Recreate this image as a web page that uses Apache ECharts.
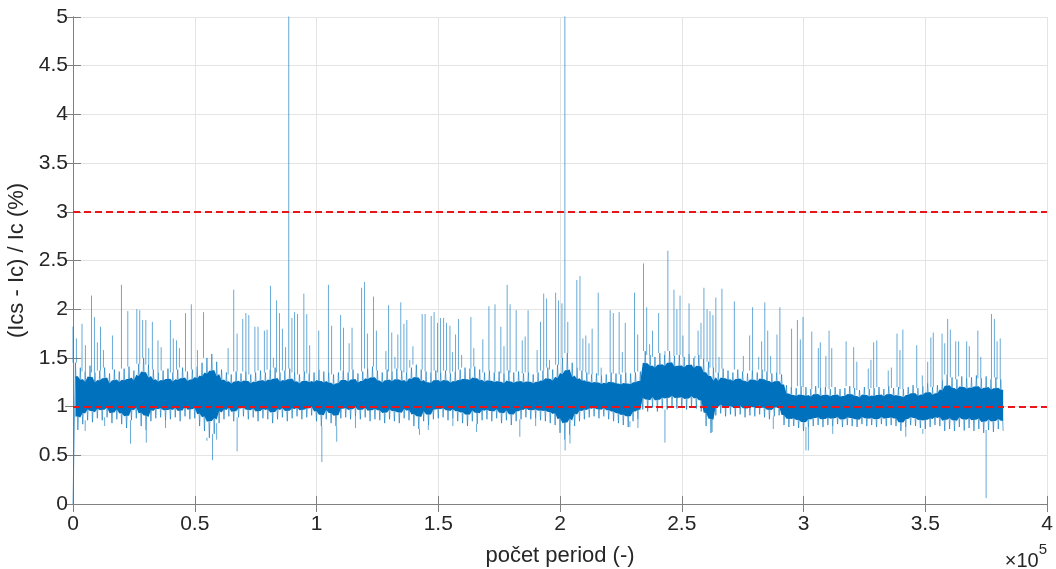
<!DOCTYPE html>
<html>
<head>
<meta charset="utf-8">
<script src="https://cdn.jsdelivr.net/npm/echarts@6/dist/echarts.min.js"></script>
<style>html,body{margin:0;padding:0;background:#fff;}#chart{width:1056px;height:569px;}</style>
</head>
<body>
<div id="chart"></div>
<script>
// ---- data ----
const bandStep = 1000; // periods between band samples
const bandValues = [
0.00,1.45,0.76,1.40,0.82,1.36,0.86,1.42,0.84,1.35,
0.88,1.37,0.86,1.40,0.89,1.34,0.83,1.38,0.87,1.36,
0.82,1.39,0.78,1.41,0.86,1.37,0.88,1.44,0.80,1.50,
0.76,1.43,0.85,1.38,0.88,1.35,0.89,1.37,0.86,1.39,
0.87,1.35,0.89,1.38,0.85,1.40,0.90,1.36,0.87,1.38,
0.88,1.41,0.80,1.45,0.75,1.50,0.68,1.54,0.72,1.46,
0.83,1.38,0.87,1.35,0.90,1.33,0.85,1.36,0.89,1.34,
0.90,1.36,0.87,1.33,0.89,1.35,0.85,1.37,0.88,1.35,
0.87,1.38,0.83,1.40,0.87,1.35,0.89,1.37,0.85,1.39,
0.88,1.35,0.90,1.33,0.87,1.36,0.89,1.34,0.91,1.35,
0.85,1.38,0.80,1.36,0.87,1.35,0.83,1.33,0.80,1.35,
0.88,1.37,0.89,1.35,0.87,1.38,0.90,1.34,0.87,1.36,
0.89,1.39,0.85,1.41,0.87,1.37,0.86,1.35,0.83,1.38,
0.87,1.36,0.85,1.39,0.83,1.37,0.88,1.35,0.86,1.40,
0.80,1.43,0.77,1.38,0.85,1.36,0.81,1.35,0.87,1.37,
0.88,1.35,0.89,1.37,0.86,1.34,0.88,1.36,0.85,1.38,
0.83,1.40,0.80,1.39,0.85,1.41,0.82,1.38,0.86,1.35,
0.87,1.37,0.85,1.35,0.88,1.36,0.83,1.34,0.86,1.37,
0.81,1.35,0.85,1.36,0.87,1.34,0.89,1.35,0.87,1.33,
0.88,1.35,0.86,1.37,0.85,1.40,0.83,1.38,0.81,1.43,
0.73,1.50,0.66,1.55,0.71,1.45,0.80,1.40,0.85,1.37,
0.87,1.35,0.89,1.33,0.90,1.34,0.88,1.32,0.90,1.33,
0.87,1.35,0.85,1.34,0.83,1.33,0.81,1.35,0.79,1.34,
0.85,1.35,0.87,1.36,0.97,1.57,0.95,1.53,0.99,1.51,
0.95,1.55,0.98,1.53,0.97,1.57,1.00,1.52,0.98,1.53,
0.99,1.51,0.97,1.54,1.00,1.50,0.98,1.53,0.95,1.49,
0.80,1.46,0.73,1.40,0.91,1.35,0.93,1.39,0.90,1.37,
0.92,1.35,0.90,1.38,0.92,1.36,0.89,1.34,0.91,1.37,
0.90,1.35,0.92,1.38,0.89,1.36,0.87,1.34,0.90,1.35,
0.91,1.33,0.81,1.22,0.79,1.20,0.80,1.19,0.78,1.21,
0.75,1.20,0.79,1.18,0.80,1.21,0.81,1.19,0.79,1.20,
0.81,1.18,0.80,1.20,0.82,1.18,0.79,1.19,0.81,1.21,
0.80,1.19,0.79,1.17,0.82,1.20,0.80,1.18,0.81,1.19,
0.79,1.20,0.82,1.18,0.80,1.21,0.81,1.19,0.80,1.20,
0.75,1.18,0.79,1.20,0.81,1.22,0.80,1.19,0.78,1.21,
0.77,1.24,0.79,1.20,0.81,1.22,0.80,1.27,0.75,1.33,
0.77,1.30,0.75,1.28,0.79,1.31,0.76,1.29,0.78,1.30,
0.75,1.32,0.77,1.29,0.73,1.31,0.76,1.28,0.74,1.30,
0.77,1.28,0.75
];
const spikeX = [0,1400,3700,5100,7600,8800,10000,11300,12500,16200,19900,22500,26200,27400,28600,29900,31100,32600,34900,36200,40000,41200,42500,43700,46200,48600,51100,53600,63700,66000,67400,69700,71000,72200,74700,76000,78600,79700,81100,82300,83600,84800,86000,87300,88600,89900,91000,92200,94800,96000,97200,100900,104900,106200,109900,111100,113400,114600,118500,119700,120900,123400,124600,128500,129600,130900,132200,133400,134600,135900,137100,138300,139600,143400,144600,147100,148300,149700,150900,152200,153400,154800,155900,157100,158300,159600,163400,164600,168300,170800,173300,175700,177000,178300,179500,182000,184500,185700,186900,190600,192000,193300,194500,195700,198200,199400,200800,202000,203200,206900,208200,209400,210600,211900,213200,215700,216900,220600,221900,224300,225600,226800,230600,231900,234300,235600,236800,238000,240500,243100,244300,246800,248000,249300,250500,253000,255400,256700,257900,259100,260400,261600,262800,264000,265300,266500,271600,275300,277900,279100,281600,282800,284100,285300,286500,289100,290300,295100,297500,298700,299800,303400,306100,306900,309200,310500,311600,317500,320600,321900,326600,327700,328800,330100,334800,336100,338400,339600,340800,346500,348800,351000,352300,353300,356900,358000,359200,360300,362500,363700,367000,368100,371600,372800,377200,378400,379500,380800];
const spikeY = [1.82,1.70,1.85,1.63,2.14,1.92,1.66,1.82,1.58,1.73,2.25,1.98,2.00,1.99,1.89,1.89,1.60,1.87,1.68,1.61,1.89,1.70,1.68,1.60,1.96,2.05,1.58,1.97,1.60,2.20,1.75,1.90,1.96,1.94,1.82,1.82,1.78,1.79,2.24,1.50,2.09,1.96,1.80,1.61,6.00,1.91,1.97,1.95,2.16,1.95,1.63,1.78,2.25,1.83,1.94,1.81,1.65,1.81,2.22,2.28,1.75,2.13,1.78,1.57,2.04,1.76,1.51,1.74,2.07,1.85,1.89,1.48,1.62,1.95,1.95,1.93,1.97,1.86,1.91,1.91,1.86,1.83,1.56,1.74,1.90,1.53,1.92,1.60,1.69,2.03,2.05,1.82,1.62,2.25,2.05,1.99,1.68,1.72,1.99,1.58,1.87,2.16,2.11,1.48,2.17,2.09,2.06,6.00,1.87,2.30,2.34,1.70,1.73,1.65,1.80,2.17,1.40,1.99,1.96,1.97,1.56,1.86,2.17,1.74,2.47,2.02,1.64,1.78,1.96,1.57,2.60,2.20,2.00,2.14,1.73,2.06,1.52,1.78,1.86,2.22,2.00,1.98,1.94,2.12,1.51,2.21,2.08,1.52,1.73,2.02,1.51,1.67,2.07,1.78,1.52,1.74,2.02,1.80,1.89,1.69,1.92,1.77,1.60,1.66,1.52,1.78,1.60,1.67,1.61,1.46,1.39,1.48,1.66,1.68,1.37,1.40,1.75,1.58,1.79,1.63,1.32,1.46,1.71,1.76,1.75,1.65,1.90,1.79,1.67,1.67,1.67,1.62,1.78,1.51,1.95,1.90,1.67,1.70];
const dipX = [5000,13000,23600,30100,38000,55000,57300,59000,67400,102200,108300,116000,142300,145900,156000,165700,183500,190000,202100,204100,228700,232000,243100,262500,287600,301000,302000,312000,342000,349000,366000,375000];
const dipY = [0.75,0.80,0.62,0.63,0.78,0.65,0.45,0.66,0.54,0.43,0.64,0.78,0.71,0.76,0.80,0.74,0.69,0.80,0.55,0.62,0.79,0.78,0.63,0.74,0.77,0.55,0.55,0.72,0.69,0.72,0.75,0.06];
const refLevels = [1, 3];
const xTickLabels = ['0','0.5','1','1.5','2','2.5','3','3.5','4'];
const yTickLabels = ['0','0.5','1','1.5','2','2.5','3','3.5','4','4.5','5'];
const xLabel = 'počet period (-)';
const yLabel = '(Ics - Ic) / Ic (%)';

// ---- build series ----
const n = bandValues.length;
const band = bandValues.map((v, i) => [i * bandStep, v]);
// dense core of the band: local envelope of neighbouring samples, pulled inward
const coreTop = [], coreBottom = [];
for (let i = 1; i < n; i++) {
  const w = bandValues.slice(Math.max(1, i - 1), Math.min(n, i + 2));
  const hi = Math.max(...w), lo = Math.min(...w);
  const shrink = 0.2 * (hi - lo);
  coreTop.push([i * bandStep, hi - shrink]);
  coreBottom.push([i * bandStep, lo + shrink]);
}
const corePolygon = coreTop.concat(coreBottom.slice().reverse());

function nearest(x) { return Math.min(n - 1, Math.round(x / bandStep)); }
const spikes = [];
spikeX.forEach((x, i) => {
  const k = nearest(x);
  const base = Math.max(bandValues[k], bandValues[Math.min(k + 1, n - 1)]);
  spikes.push([x, base], [x, spikeY[i]], [x, '-']);
});
dipX.forEach((x, i) => {
  const k = nearest(x);
  const base = Math.min(bandValues[k], bandValues[Math.min(k + 1, n - 1)]);
  spikes.push([x, base], [x, dipY[i]], [x, '-']);
});

const FONT = 'Liberation Sans, Arial, sans-serif';
const TXT = '#262626';
const AX = '#808080';
const GRIDC = '#e4e4e4';
const BLUE = '#0072BD';
const chart = echarts.init(document.getElementById('chart'), null, {renderer: 'canvas'});
chart.setOption({
  animation: false,
  backgroundColor: '#fff',
  grid: {left: 73, right: 9, top: 17, bottom: 65, containLabel: false, outerBoundsMode: 'none'},
  xAxis: [{
    type: 'value', min: 0, max: 400000, interval: 50000,
    axisLine: {show: true, lineStyle: {color: AX, width: 1}},
    axisTick: {show: true, inside: true, length: 8, lineStyle: {color: AX}},
    splitLine: {show: true, lineStyle: {color: GRIDC, width: 1}},
    axisLabel: {color: TXT, fontSize: 21, fontFamily: FONT, margin: 10,
      formatter: v => xTickLabels[Math.round(v / 50000)]},
    name: xLabel, nameLocation: 'middle', nameGap: 41,
    nameTextStyle: {color: TXT, fontSize: 22, fontFamily: FONT}
  }, {
    type: 'value', position: 'top', min: 0, max: 400000, interval: 50000,
    axisLine: {show: true, lineStyle: {color: AX, width: 1}},
    axisTick: {show: true, inside: true, length: 8, lineStyle: {color: AX}},
    splitLine: {show: false}, axisLabel: {show: false}
  }],
  yAxis: [{
    type: 'value', min: 0, max: 5, interval: 0.5,
    axisLine: {show: true, lineStyle: {color: AX, width: 1}},
    axisTick: {show: true, inside: true, length: 8, lineStyle: {color: AX}},
    splitLine: {show: true, lineStyle: {color: GRIDC, width: 1}},
    axisLabel: {color: TXT, fontSize: 21, fontFamily: FONT, margin: 5,
      formatter: v => yTickLabels[Math.round(v / 0.5)]},
    name: yLabel, nameLocation: 'middle', nameGap: 40, nameRotate: 90,
    nameTextStyle: {color: TXT, fontSize: 22, fontFamily: FONT}
  }, {
    type: 'value', position: 'right', min: 0, max: 5, interval: 0.5,
    axisLine: {show: true, lineStyle: {color: AX, width: 1}},
    axisTick: {show: true, inside: true, length: 8, lineStyle: {color: AX}},
    splitLine: {show: false}, axisLabel: {show: false}
  }],
  series: [{
    type: 'line', data: spikes, symbol: 'none', connectNulls: false, clip: true,
    lineStyle: {color: BLUE, width: 1, opacity: 0.6}, z: 2
  }, {
    type: 'line', data: band, symbol: 'none', clip: true, sampling: null,
    lineStyle: {color: BLUE, width: 0.8, opacity: 0.75}, z: 3
  }, {
    type: 'custom', data: [0], z: 4, clip: true,
    renderItem: (params, api) => ({
      type: 'polygon',
      shape: {points: corePolygon.map(p => api.coord(p))},
      style: {fill: BLUE}
    })
  }, {
    type: 'line', data: [], symbol: 'none', z: 5,
    markLine: {
      silent: true, symbol: ['none', 'none'], label: {show: false},
      lineStyle: {color: '#E8161B', type: [7, 4], width: 2},
      data: refLevels.map(v => ({yAxis: v}))
    }
  }],
  graphic: [{
    type: 'text', right: 9, top: 542,
    style: {
      text: '{a|×10}{b|5}',
      rich: {
        a: {fontSize: 20, fontFamily: FONT, fill: TXT, verticalAlign: 'bottom', padding: [9, 0, 0, 0]},
        b: {fontSize: 15, fontFamily: FONT, fill: TXT, verticalAlign: 'top'}
      }
    }
  }]
});
</script>
</body>
</html>
